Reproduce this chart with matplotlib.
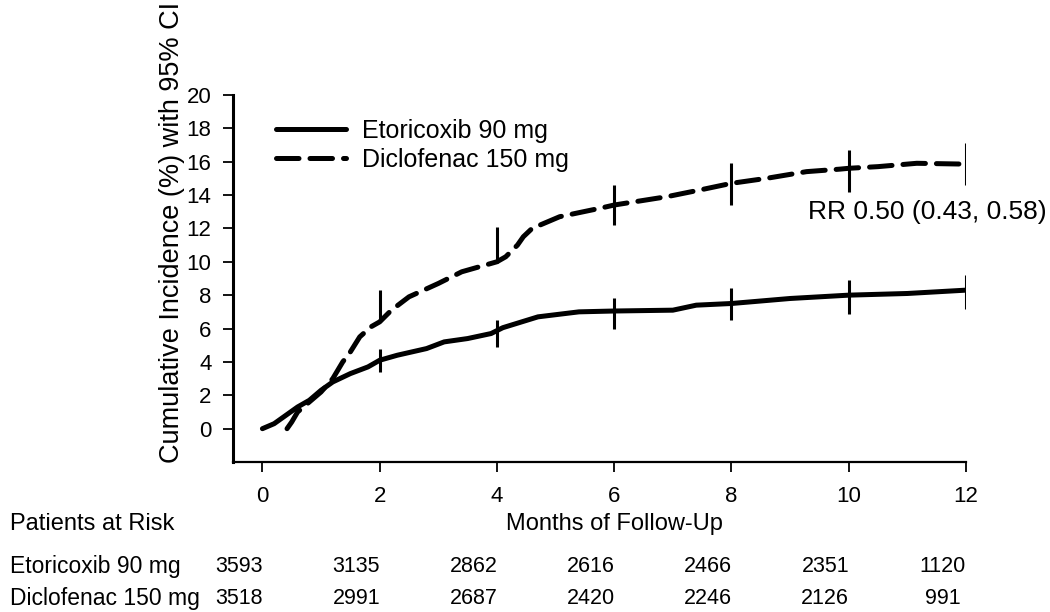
import matplotlib.pyplot as plt
from matplotlib.transforms import blended_transform_factory

# cumulative incidence curves (months, %)
eto_months = [0, 0.2, 0.4, 0.6, 0.8, 1.0, 1.2, 1.5, 1.8, 2.0, 2.3, 2.8, 3.1, 3.5, 3.9,
              4.1, 4.7, 5.4, 6.0, 7.0, 7.4, 8.0, 9.0, 10.0, 11.0, 12.0]
eto_inc = [0, 0.3, 0.8, 1.3, 1.7, 2.3, 2.8, 3.3, 3.7, 4.1, 4.4, 4.8, 5.2, 5.4, 5.7,
           6.05, 6.7, 7.0, 7.05, 7.1, 7.4, 7.5, 7.8, 8.0, 8.1, 8.3]

dic_months = [0.42, 0.5, 0.6, 0.8, 1.0, 1.2, 1.37, 1.5, 1.66, 1.85, 2.0, 2.2, 2.5, 3.0,
              3.4, 3.8, 4.0, 4.15, 4.35, 4.45, 4.6, 5.07, 5.75, 6.0, 6.9, 7.46, 8.0,
              8.6, 9.28, 9.85, 10.0, 10.5, 11.16, 12.0]
dic_inc = [0.0, 0.4, 1.0, 1.6, 2.2, 3.0, 4.0, 4.6, 5.5, 6.1, 6.4, 7.1, 7.9, 8.7,
           9.4, 9.8, 10.0, 10.3, 11.0, 11.5, 12.0, 12.7, 13.2, 13.4, 13.9, 14.3, 14.7,
           15.0, 15.4, 15.55, 15.6, 15.7, 15.9, 15.85]

# 95% CI bars
ci_months = [2, 4, 6, 8, 10, 12]
eto_lo = [3.4, 4.9, 6.0, 6.5, 6.9, 7.2]
eto_hi = [4.8, 6.5, 7.8, 8.4, 8.9, 9.2]
dic_lo = [6.4, 9.9, 12.2, 13.4, 14.2, 14.6]
dic_hi = [8.3, 12.1, 14.6, 15.9, 16.7, 17.1]

# patients at risk
risk_months = [0, 2, 4, 6, 8, 10, 12]
eto_risk = [3593, 3135, 2862, 2616, 2466, 2351, 1120]
dic_risk = [3518, 2991, 2687, 2420, 2246, 2126, 991]

plt.rcParams['font.family'] = ['Liberation Sans', 'DejaVu Sans']

fig = plt.figure(figsize=(10.5, 6.12), dpi=100)
ax = fig.add_axes([0.222, 0.245, 0.698, 0.6])

ax.plot(eto_months, eto_inc, color='black', lw=3.6, solid_capstyle='round',
        solid_joinstyle='round', label='Etoricoxib 90 mg')
ax.plot(dic_months, dic_inc, color='black', lw=3.6, dashes=(4.5, 2.2),
        dash_capstyle='round', label='Diclofenac 150 mg')
ax.vlines(ci_months, eto_lo, eto_hi, color='black', lw=2.2)
ax.vlines(ci_months, dic_lo, dic_hi, color='black', lw=2.2)

ax.set_xlim(-0.5, 12)
ax.set_ylim(-2, 20)
ax.set_xticks(range(0, 13, 2))
ax.set_yticks(range(0, 21, 2))
ax.tick_params(labelsize=16, length=7.5, width=1.3, direction='out')
ax.tick_params(axis='x', pad=10)
ax.tick_params(axis='y', pad=8)
for s in ['top', 'right']:
    ax.spines[s].set_visible(False)
ax.spines['left'].set_linewidth(2.2)
ax.spines['bottom'].set_linewidth(1.6)

leg = ax.legend(loc='upper left', bbox_to_anchor=(0.028, 0.995), frameon=False,
                fontsize=18, handlelength=2.8, handletextpad=0.65, labelspacing=0.2)

ax.text(9.3, 13.0, 'RR 0.50 (0.43, 0.58)', fontsize=19, ha='left', va='center')

fig.text(0.164, 1 - 232 / 612, 'Cumulative Incidence (%) with 95% CI', rotation=90,
         fontsize=19.5, ha='center', va='center')

# bottom block: x label and patients at risk table
trans = blended_transform_factory(ax.transData, fig.transFigure)
fig.text(0.585, 1 - 524 / 612, 'Months of Follow-Up', fontsize=17, ha='center', va='center')
fig.text(0.0095, 1 - 524 / 612, 'Patients at Risk', fontsize=17, ha='left', va='center')
fig.text(0.0095, 1 - 567 / 612, 'Etoricoxib 90 mg', fontsize=16.5, ha='left', va='center')
fig.text(0.0095, 1 - 598 / 612, 'Diclofenac 150 mg', fontsize=16.5, ha='left', va='center')
for m, a, b in zip(risk_months, eto_risk, dic_risk):
    ax.text(m - 0.4, 1 - 567 / 612, str(a), transform=trans, fontsize=15.5,
            ha='center', va='center')
    ax.text(m - 0.4, 1 - 598 / 612, str(b), transform=trans, fontsize=15.5,
            ha='center', va='center')

fig.savefig('out.png', dpi=100)
